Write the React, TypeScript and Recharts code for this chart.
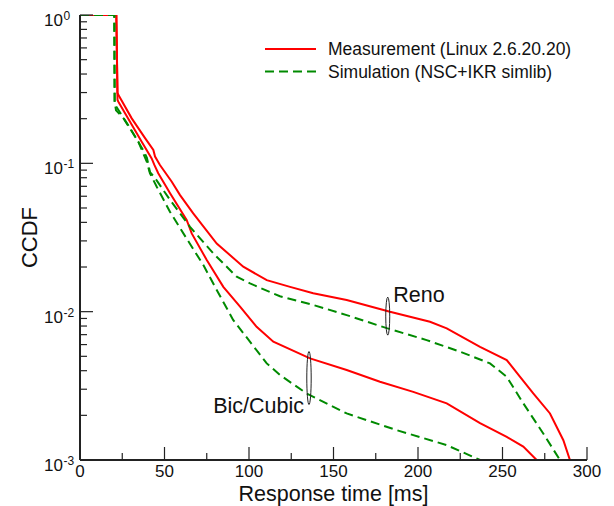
import React from "react";
import { LineChart, Line, XAxis, YAxis, Legend, ReferenceDot, Label } from "recharts";

const FONT = '"Liberation Sans", Arial, Helvetica, sans-serif';
const RED = "#ff0000";
const GREEN = "#008a00";
const INK = "#111";

// Reno, measurement
const renoMeasX = [0, 21.5, 22.2, 23.1, 30.6, 38.5, 43.4, 44.4, 47.3, 54.3, 59.2, 67.0, 80.9, 96.6, 110.5, 124.3, 138.0, 157.8, 183.4, 207.1, 217.0, 236.7, 252.5, 260.4, 268.2, 278.1, 286.0, 289.9];
const renoMeasY = [1, 1, 0.298, 0.284, 0.201, 0.148, 0.123, 0.111, 0.0975, 0.0752, 0.0611, 0.046, 0.0288, 0.0201, 0.0163, 0.0147, 0.0133, 0.012, 0.00998, 0.00855, 0.00771, 0.00579, 0.00472, 0.00364, 0.00281, 0.00206, 0.00136, 0.001];

// Bic/Cubic, measurement
const bicMeasX = [0, 21.5, 22.2, 22.7, 29.6, 36.5, 42.4, 44.0, 46.3, 53.3, 63.1, 66.1, 75.0, 84.8, 94.7, 104.5, 114.4, 136.1, 157.8, 177.5, 197.2, 217.0, 236.7, 252.5, 262.3, 270.2];
const bicMeasY = [1, 1, 0.267, 0.26, 0.191, 0.14, 0.108, 0.0975, 0.0857, 0.0628, 0.0415, 0.0337, 0.0223, 0.0147, 0.0108, 0.00791, 0.00627, 0.00484, 0.00404, 0.00337, 0.00288, 0.00241, 0.00177, 0.00143, 0.00123, 0.001];

// Reno, simulation
const renoSimX = [0, 20.3, 20.5, 21.3, 29.6, 37.3, 39.6, 41.4, 44.4, 53.3, 65.1, 78.9, 92.7, 100.6, 118.3, 138.0, 157.8, 181.5, 205.1, 224.9, 242.6, 252.5, 262.3, 274.1, 284.0];
const renoSimY = [1, 1, 0.26, 0.243, 0.173, 0.123, 0.109, 0.0873, 0.0796, 0.0566, 0.0373, 0.0247, 0.0172, 0.0155, 0.0127, 0.0111, 0.00948, 0.00774, 0.00643, 0.00537, 0.00448, 0.00364, 0.00241, 0.00151, 0.001];

// Bic/Cubic, simulation
const bicSimX = [0, 20.3, 20.5, 21.3, 25.6, 34.5, 39.5, 41.4, 45.4, 53.3, 63.1, 73.0, 80.9, 90.7, 110.5, 118.3, 134.1, 157.8, 187.4, 217.0, 236.7];
const bicSimY = [1, 1, 0.26, 0.228, 0.202, 0.14, 0.1026, 0.0857, 0.0695, 0.047, 0.0311, 0.0206, 0.014, 0.00877, 0.00448, 0.00374, 0.00281, 0.00206, 0.00159, 0.00126, 0.001];

const xTicks = [0, 25, 50, 75, 100, 125, 150, 175, 200, 225, 250, 275, 300];
const yDecades = [0.001, 0.01, 0.1];
const yMantissas = [1, 2, 3, 4, 5, 6, 7, 8, 9];
const yTicks = yDecades.flatMap((d) => yMantissas.map((m) => +(m * d).toPrecision(3))).concat([1]);

const legendItems = [
  { name: "Measurement (Linux 2.6.20.20)", color: RED, dash: undefined as string | undefined },
  { name: "Simulation (NSC+IKR simlib)", color: GREEN, dash: "9 5" },
];

const zip = (xs: number[], ys: number[]) => xs.map((x, i) => ({ x, y: ys[i] }));

const isDecade = (v: number) => Math.abs(Math.log10(v) - Math.round(Math.log10(v))) < 1e-6;

function LeftTick(props: any) {
  const { x, y, payload } = props;
  const v = payload.value;
  const major = isDecade(v);
  return (
    <g>
      <line x1={x} x2={x + (major ? 13 : 7)} y1={y} y2={y} stroke="#222" strokeWidth={1.2} />
      {major && (
        <>
          <text x={x - 17} y={y + 11} textAnchor="end" fontSize={17} fontFamily={FONT} fill={INK}>10</text>
          <text x={x - 16.5} y={y + 5} fontSize={12} fontFamily={FONT} fill={INK}>{String(Math.round(Math.log10(v)))}</text>
        </>
      )}
    </g>
  );
}

function RightTick(props: any) {
  const { x, y, payload } = props;
  const major = isDecade(payload.value);
  return <line x1={x} x2={x - (major ? 13 : 7)} y1={y} y2={y} stroke="#222" strokeWidth={1.2} />;
}

function BottomTick(props: any) {
  const { x, y, payload } = props;
  const major = payload.value % 50 === 0;
  return (
    <g>
      <line x1={x} x2={x} y1={y} y2={y - (major ? 13 : 7)} stroke="#222" strokeWidth={1.2} />
      {major && (
        <text x={x} y={y + 17} textAnchor="middle" fontSize={17} fontFamily={FONT} fill={INK}>{payload.value}</text>
      )}
    </g>
  );
}

function TopTick(props: any) {
  const { x, y, payload } = props;
  const major = payload.value % 50 === 0;
  return <line x1={x} x2={x} y1={y} y2={y + (major ? 13 : 7)} stroke="#222" strokeWidth={1.2} />;
}

function LegendBox() {
  return (
    <svg width={340} height={46} style={{ display: "block" }}>
      {legendItems.map((it, i) => (
        <g key={it.name} transform={`translate(0, ${11 + i * 22.5})`}>
          <line x1={0} x2={51} y1={0} y2={0} stroke={it.color} strokeWidth={2} strokeDasharray={it.dash} />
          <text x={63} y={6} fontSize={17.5} fontFamily={FONT} fill={INK}>{it.name}</text>
        </g>
      ))}
    </svg>
  );
}

const axisLine = { stroke: "#222", strokeWidth: 2 };

export default function App() {
  return (
    <div style={{ position: "relative", width: 614, height: 506 }}>
      <style>{"body{margin:0;background:#fff}"}</style>
      <LineChart width={614} height={506} margin={{ top: 15, right: 27, left: 0, bottom: 0 }}>
        <XAxis xAxisId="top" orientation="top" type="number" dataKey="x" domain={[0, 300]} ticks={xTicks}
          interval={0} height={0} tickSize={0} tickMargin={0} tickLine={false} axisLine={axisLine} tick={<TopTick />} />
        <YAxis yAxisId="right" orientation="right" scale="log" domain={[0.001, 1]} allowDataOverflow ticks={yTicks}
          interval={0} width={0} tickSize={0} tickMargin={0} tickLine={false} axisLine={axisLine} tick={<RightTick />} />
        <XAxis type="number" dataKey="x" domain={[0, 300]} ticks={xTicks} interval={0} height={46}
          tickSize={0} tickMargin={0} tickLine={false} axisLine={axisLine} tick={<BottomTick />}>
          <Label content={(p: any) => (
            <text x={p.viewBox.x + p.viewBox.width / 2} y={p.viewBox.y + 40.5} textAnchor="middle"
              fontSize={21.5} fontFamily={FONT} fill={INK}>Response time [ms]</text>
          )} />
        </XAxis>
        <YAxis scale="log" domain={[0.001, 1]} allowDataOverflow ticks={yTicks} interval={0} width={80}
          tickSize={0} tickMargin={0} tickLine={false} axisLine={axisLine} tick={<LeftTick />}>
          <Label content={(p: any) => {
            const cx = p.viewBox.x + 37;
            const cy = p.viewBox.y + p.viewBox.height / 2;
            return (
              <text x={cx} y={cy} transform={`rotate(-90 ${cx} ${cy})`} textAnchor="middle"
                fontSize={22} fontFamily={FONT} fill={INK}>CCDF</text>
            );
          }} />
        </YAxis>
        <Legend layout="vertical" align="center" verticalAlign="middle" content={<LegendBox />}
          wrapperStyle={{ left: 265, top: 38, width: 340, height: 46 }} />
        <Line data={zip(renoMeasX, renoMeasY)} dataKey="y" type="linear" stroke={RED} strokeWidth={2}
          dot={false} isAnimationActive={false} />
        <Line data={zip(bicMeasX, bicMeasY)} dataKey="y" type="linear" stroke={RED} strokeWidth={2}
          dot={false} isAnimationActive={false} />
        <Line data={zip(renoSimX, renoSimY)} dataKey="y" type="linear" stroke={GREEN} strokeWidth={2}
          strokeDasharray="9 5" dot={false} isAnimationActive={false} />
        <Line data={zip(bicSimX, bicSimY)} dataKey="y" type="linear" stroke={GREEN} strokeWidth={2}
          strokeDasharray="9 5" dot={false} isAnimationActive={false} />
        <ReferenceDot x={182.1} y={0.00933} r={0} shape={(p: any) => (
          <g>
            <ellipse cx={p.cx} cy={p.cy} rx={2} ry={19} fill="none" stroke="#222" strokeWidth={1} />
            <text x={p.cx + 5.5} y={p.cy - 14.5} fontSize={21.5} fontFamily={FONT} fill={INK}>Reno</text>
          </g>
        )} />
        <ReferenceDot x={135.5} y={0.00357} r={0} shape={(p: any) => (
          <g>
            <ellipse cx={p.cx} cy={p.cy} rx={2.2} ry={26.5} fill="none" stroke="#222" strokeWidth={1} />
            <text x={p.cx - 5} y={p.cy + 35} textAnchor="end" fontSize={21.5} fontFamily={FONT} fill={INK}>Bic/Cubic</text>
          </g>
        )} />
      </LineChart>
    </div>
  );
}
